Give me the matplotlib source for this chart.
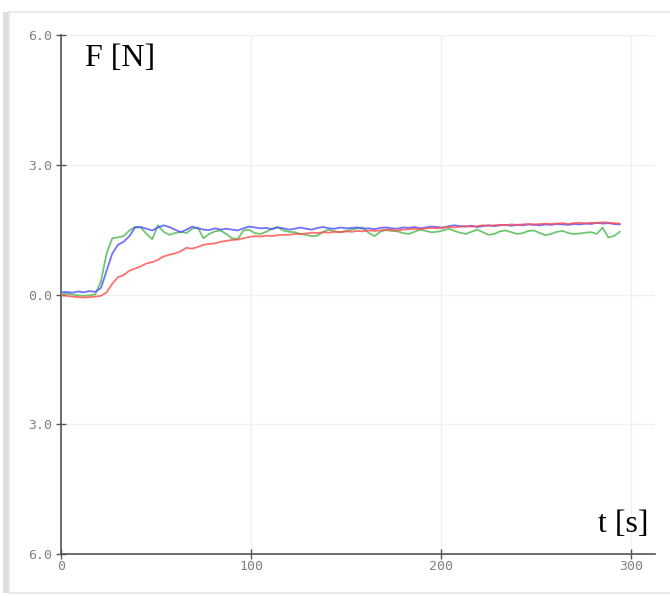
import numpy as np
import matplotlib
matplotlib.use("Agg")
import matplotlib.pyplot as plt
from matplotlib.patches import Rectangle
from matplotlib.ticker import FixedLocator, FuncFormatter

# Force readings sampled every 3 s
force_blue = [
    0.05, 0.06, 0.04, 0.07, 0.05, 0.08, 0.06,
    0.15, 0.55, 0.95, 1.15, 1.22, 1.35, 1.55, 1.56, 1.52, 1.48, 1.55, 1.60,
    1.56, 1.50, 1.44, 1.50, 1.57, 1.53, 1.50, 1.49, 1.53, 1.50, 1.52, 1.50,
    1.48, 1.53, 1.57, 1.55, 1.53, 1.54, 1.51, 1.55, 1.53, 1.50, 1.52, 1.55,
    1.52, 1.50, 1.54, 1.56, 1.53, 1.52, 1.55, 1.53, 1.54, 1.55, 1.52, 1.53,
    1.51, 1.54, 1.55, 1.53, 1.52, 1.55, 1.54, 1.56, 1.53, 1.55, 1.57, 1.56,
    1.54, 1.58, 1.60, 1.58, 1.57, 1.59, 1.56, 1.58, 1.60, 1.58, 1.60, 1.61,
    1.59, 1.61, 1.60, 1.62, 1.61, 1.60, 1.62, 1.61, 1.63, 1.62, 1.61, 1.63,
    1.62, 1.64, 1.63, 1.66, 1.64, 1.65, 1.63, 1.62,
]

force_red = [
    -0.02, -0.03, -0.05, -0.06, -0.07, -0.06, -0.05, -0.03,
    0.05, 0.25, 0.40, 0.45, 0.55, 0.60, 0.65, 0.72, 0.75, 0.80, 0.88, 0.92,
    0.95, 1.00, 1.08, 1.06, 1.10, 1.15, 1.17, 1.18, 1.22, 1.24, 1.26, 1.27,
    1.30, 1.33, 1.35, 1.34, 1.36, 1.35, 1.37, 1.38, 1.38, 1.40, 1.40, 1.41,
    1.43, 1.42, 1.44, 1.43, 1.45, 1.44, 1.46, 1.45, 1.47, 1.46, 1.48, 1.47,
    1.48, 1.50, 1.49, 1.48, 1.50, 1.51, 1.52, 1.51, 1.53, 1.54, 1.53, 1.55,
    1.56, 1.55, 1.57, 1.58, 1.57, 1.58, 1.60, 1.59, 1.60, 1.61, 1.60, 1.62,
    1.61, 1.62, 1.63, 1.62, 1.63, 1.64, 1.63, 1.64, 1.65, 1.63, 1.65, 1.66,
    1.64, 1.66, 1.65, 1.67, 1.66, 1.65, 1.64,
]

force_green = [
    0.00, 0.02, 0.00, -0.02, -0.03, -0.02, 0.00,
    0.30, 0.95, 1.30, 1.32, 1.35, 1.48, 1.56, 1.55, 1.40, 1.28, 1.60, 1.45,
    1.38, 1.42, 1.45, 1.42, 1.52, 1.55, 1.30, 1.40, 1.46, 1.48, 1.40, 1.30,
    1.28, 1.48, 1.50, 1.42, 1.40, 1.45, 1.52, 1.56, 1.48, 1.45, 1.44, 1.40,
    1.38, 1.35, 1.36, 1.45, 1.50, 1.46, 1.44, 1.47, 1.50, 1.53, 1.55, 1.42,
    1.35, 1.45, 1.49, 1.47, 1.46, 1.42, 1.40, 1.45, 1.50, 1.47, 1.44, 1.45,
    1.48, 1.52, 1.47, 1.43, 1.40, 1.45, 1.50, 1.44, 1.38, 1.40, 1.46, 1.48,
    1.44, 1.40, 1.42, 1.47, 1.48, 1.42, 1.37, 1.40, 1.45, 1.47, 1.42, 1.40,
    1.41, 1.43, 1.44, 1.40, 1.55, 1.32, 1.35, 1.45,
]

time_step = 3
x_ticks = [0, 100, 200, 300]
y_ticks = [-6.0, -3.0, 0.0, 3.0, 6.0]

fig = plt.figure(figsize=(6.7, 5.96), dpi=100)

# card background with a soft left shadow
fig.patches.append(Rectangle((0.004, 0.005), 0.012, 0.975, transform=fig.transFigure,
                             facecolor="#dedede", edgecolor="none", zorder=-2))
fig.patches.append(Rectangle((0.013, 0.005), 1.2, 0.975, transform=fig.transFigure,
                             facecolor="white", edgecolor="#e6e6e6", lw=1.2, zorder=-1))

ax = fig.add_axes([61 / 670, 42 / 596, 594 / 670, 519 / 596])
ax.set_zorder(1)
ax.set_facecolor("none")

t_green = np.arange(len(force_green)) * time_step
t_blue = np.arange(len(force_blue)) * time_step
t_red = np.arange(len(force_red)) * time_step

ax.plot(t_green, force_green, color="#4cb84c", lw=1.3, alpha=0.8, zorder=3)
ax.plot(t_blue, force_blue, color="#4d4dff", lw=1.3, alpha=0.8, zorder=4)
ax.plot(t_red, force_red, color="#ff4d4d", lw=1.3, alpha=0.8, zorder=5)

ax.set_xlim(0, 312.6)
ax.set_ylim(-6, 6)

ax.xaxis.set_major_locator(FixedLocator(x_ticks))
ax.yaxis.set_major_locator(FixedLocator(y_ticks))
ax.yaxis.set_major_formatter(FuncFormatter(lambda v, p: f"{abs(v):.1f}"))
ax.xaxis.set_major_formatter(FuncFormatter(lambda v, p: f"{v:.0f}"))

ax.grid(True, color="#f0f0f0", lw=1.0, zorder=0)
for s in ("top", "right"):
    ax.spines[s].set_visible(False)
for s in ("left", "bottom"):
    ax.spines[s].set_color("#555555")
    ax.spines[s].set_linewidth(1.2)

ax.tick_params(axis="both", direction="inout", length=7, width=1.0, color="#555555",
               labelcolor="#808080", labelsize=9.5)
ax.tick_params(axis="y", pad=3)
ax.tick_params(axis="x", pad=1)
for lab in ax.get_xticklabels() + ax.get_yticklabels():
    lab.set_family("DejaVu Sans Mono")

fig.text(85 / 670, 1 - 58 / 596, "F [N]", family="Liberation Serif", fontsize=23,
         color="black", va="center", ha="left", zorder=2)
fig.text(648 / 670, 1 - 524 / 596, "t [s]", family="Liberation Serif", fontsize=23,
         color="black", va="center", ha="right", zorder=2)

fig.savefig("out.png", dpi=100)
